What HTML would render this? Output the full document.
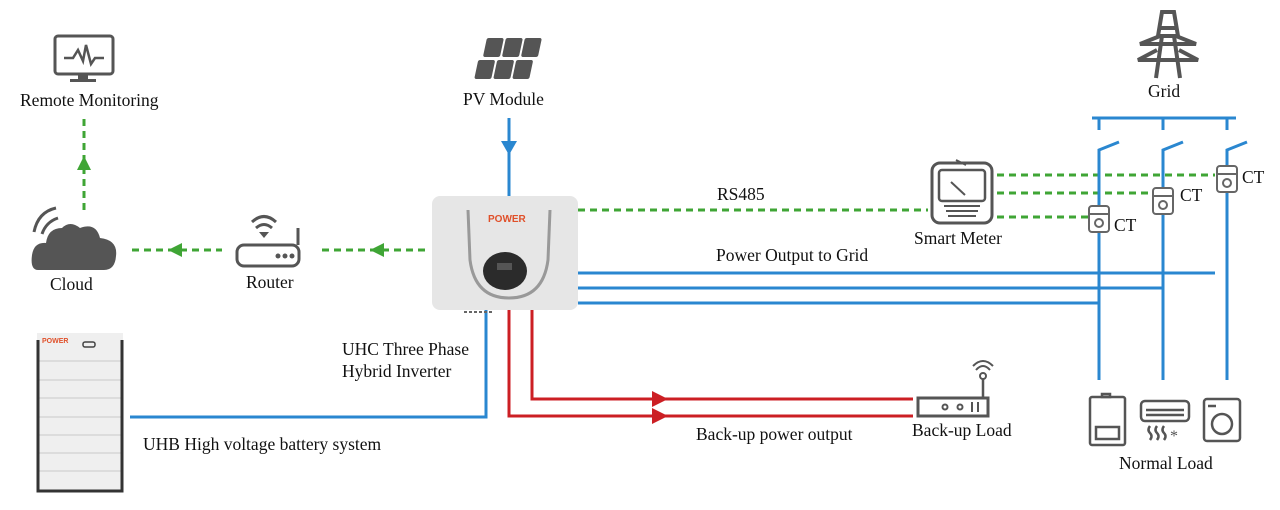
<!DOCTYPE html>
<html><head><meta charset="utf-8"><style>
html,body{margin:0;padding:0;background:#fff;}
svg{display:block;}
text{font-family:"Liberation Serif",serif;font-size:17.5px;fill:#111;}
</style></head><body>
<svg width="1280" height="510" viewBox="0 0 1280 510" xmlns="http://www.w3.org/2000/svg">
<!-- green dashed lines -->
<g stroke="#3fa535" stroke-width="3" stroke-dasharray="7,5" fill="none">
<line x1="84" y1="210" x2="84" y2="118"/>
<line x1="132" y1="250" x2="222" y2="250"/>
<line x1="322" y1="250" x2="430" y2="250"/>
<line x1="578" y1="210" x2="928" y2="210"/>
<line x1="997" y1="175" x2="1215" y2="175"/>
<line x1="997" y1="193" x2="1155" y2="193"/>
<line x1="997" y1="217" x2="1090" y2="217"/>
</g>
<g fill="#3fa535">
<polygon points="77,170 91,170 84,156"/>
<polygon points="168,250 182,243 182,257"/>
<polygon points="370,250 384,243 384,257"/>
</g>
<!-- blue lines -->
<g stroke="#2a87d0" stroke-width="3" fill="none">
<line x1="509" y1="118" x2="509" y2="196"/>
<line x1="578" y1="273" x2="1215" y2="273"/>
<line x1="578" y1="288" x2="1163" y2="288"/>
<line x1="578" y1="303" x2="1099" y2="303"/>
<polyline points="130,417 486,417 486,310"/>
<line x1="1092" y1="118" x2="1236" y2="118"/>
<line x1="1099" y1="118" x2="1099" y2="130"/>
<line x1="1163" y1="118" x2="1163" y2="130"/>
<line x1="1227" y1="118" x2="1227" y2="130"/>
<polyline points="1119,142 1099,150 1099,380"/>
<polyline points="1183,142 1163,150 1163,380"/>
<polyline points="1247,142 1227,150 1227,380"/>
</g>
<polygon points="501,141 517,141 509,155" fill="#2a87d0"/>
<!-- red lines -->
<g stroke="#cc1f24" stroke-width="3" fill="none">
<polyline points="532,310 532,399 913,399"/>
<polyline points="509,310 509,416 913,416"/>
</g>
<g fill="#cc1f24">
<polygon points="652,391 652,407 668,399"/>
<polygon points="652,408 652,424 668,416"/>
</g>
<!-- inverter -->
<rect x="432" y="196" width="146" height="114" rx="8" fill="#e6e6e6"/>
<path d="M468,210 L470,260 Q475,298 509,298 Q543,298 548,260 L550,210" stroke="#999" stroke-width="3" fill="none"/>
<text x="488" y="222" style="font-family:'Liberation Sans',sans-serif;font-size:10px;font-weight:bold;fill:#e0502a">POWER</text>
<ellipse cx="505" cy="271" rx="22" ry="19" fill="#2b2b2b"/>
<rect x="497" y="263" width="15" height="7" fill="#555"/>
<line x1="464" y1="312" x2="492" y2="312" stroke="#666" stroke-width="2" stroke-dasharray="3,2"/>
<!-- battery -->
<rect x="37" y="333" width="86" height="159" fill="#efefef"/>
<g stroke="#c8c8c8" stroke-width="1"><line x1="39" y1="361" x2="121" y2="361"/><line x1="39" y1="380" x2="121" y2="380"/><line x1="39" y1="398" x2="121" y2="398"/><line x1="39" y1="417" x2="121" y2="417"/><line x1="39" y1="435" x2="121" y2="435"/><line x1="39" y1="453" x2="121" y2="453"/><line x1="39" y1="471" x2="121" y2="471"/></g>
<path d="M38,340 L38,491 L122,491 L122,340" stroke="#333" stroke-width="3" fill="none"/>
<rect x="83" y="342" width="12" height="5" rx="2" stroke="#444" stroke-width="1.5" fill="none"/>
<text x="42" y="343" style="font-family:'Liberation Sans',sans-serif;font-size:7px;font-weight:bold;fill:#e0502a">POWER</text>
<!-- monitor -->
<rect x="55" y="36" width="58" height="38" rx="3" stroke="#555" stroke-width="3" fill="none"/>
<rect x="78" y="74" width="10" height="5" fill="#555"/><rect x="70" y="79" width="26" height="3" fill="#555"/>
<polyline points="64,58 73,58 78,50 83,61 86,45 91,64 95,58 104,58" stroke="#555" stroke-width="2.5" fill="none"/>
<!-- cloud -->
<path d="M38,270 Q30,270 32,255 Q34,242 46,243 Q48,228 62,228 Q70,220 80,228 Q96,222 100,238 Q118,240 116,256 Q115,270 104,270 Z" fill="#555"/>
<path d="M34,232 Q38,212 56,208" stroke="#555" stroke-width="3" fill="none"/>
<path d="M42,234 Q46,222 58,218" stroke="#555" stroke-width="3" fill="none"/>
<!-- router -->
<rect x="237" y="245" width="62" height="21" rx="7" stroke="#555" stroke-width="3" fill="none"/>
<line x1="298" y1="245" x2="298" y2="228" stroke="#555" stroke-width="3"/>
<g fill="#555"><circle cx="278" cy="256" r="2.5"/><circle cx="285" cy="256" r="2.5"/><circle cx="292" cy="256" r="2.5"/></g>
<path d="M252,222 Q264,211 276,222 M256,228 Q264,221 272,228" stroke="#555" stroke-width="3" fill="none"/>
<polygon points="259,232 269,232 264,238" fill="#555"/>
<!-- PV -->
<g fill="#555" transform="skewX(-12)">
<rect x="495" y="38" width="17" height="19" rx="2"/><rect x="514" y="38" width="17" height="19" rx="2"/><rect x="533" y="38" width="17" height="19" rx="2"/>
<rect x="491" y="60" width="17" height="19" rx="2"/><rect x="510" y="60" width="17" height="19" rx="2"/><rect x="529" y="60" width="17" height="19" rx="2"/>
</g>
<!-- grid tower -->
<g stroke="#555" stroke-width="4" fill="none">
<path d="M1158,36 L1162,12 L1174,12 L1178,36"/>
<path d="M1156,78 L1162,36 M1180,78 L1174,36"/>
<path d="M1160,28 L1176,28"/>
<path d="M1160,36 L1140,44 L1196,44 L1176,36 Z"/>
<path d="M1157,50 L1138,60 L1198,60 L1179,50"/>
</g>
<!-- smart meter -->
<rect x="932" y="163" width="60" height="60" rx="8" stroke="#555" stroke-width="3" fill="none"/>
<rect x="939" y="170" width="46" height="31" rx="3" stroke="#555" stroke-width="2.5" fill="none"/>
<g stroke="#555" stroke-width="2"><line x1="951" y1="182" x2="965" y2="195"/><line x1="944" y1="206" x2="980" y2="206"/><line x1="946" y1="211" x2="978" y2="211"/><line x1="948" y1="216" x2="976" y2="216"/></g>
<line x1="956" y1="160" x2="966" y2="165" stroke="#555" stroke-width="2"/>
<!-- CTs -->
<g stroke="#666" stroke-width="2" fill="#fff">
<rect x="1089" y="206" width="20" height="26" rx="3"/><line x1="1089" y1="214" x2="1109" y2="214"/><circle cx="1099" cy="223" r="4"/>
<rect x="1153" y="188" width="20" height="26" rx="3"/><line x1="1153" y1="196" x2="1173" y2="196"/><circle cx="1163" cy="205" r="4"/>
<rect x="1217" y="166" width="20" height="26" rx="3"/><line x1="1217" y1="174" x2="1237" y2="174"/><circle cx="1227" cy="183" r="4"/>
</g>
<!-- backup load -->
<rect x="918" y="398" width="70" height="18" stroke="#555" stroke-width="3" fill="none"/>
<line x1="983" y1="398" x2="983" y2="378" stroke="#555" stroke-width="2.5"/>
<circle cx="983" cy="376" r="3" stroke="#555" stroke-width="2" fill="none"/>
<path d="M976,370 Q983,362 990,370 M973,366 Q983,356 993,366" stroke="#555" stroke-width="2" fill="none"/>
<g stroke="#555" stroke-width="2" fill="none"><circle cx="945" cy="407" r="2.5"/><circle cx="960" cy="407" r="2.5"/><line x1="972" y1="402" x2="972" y2="412"/><line x1="978" y1="402" x2="978" y2="412"/></g>
<!-- normal loads -->
<g stroke="#555" stroke-width="2.5" fill="none">
<rect x="1090" y="397" width="35" height="48" rx="2"/><rect x="1102" y="394" width="8" height="3"/>
<rect x="1096" y="427" width="23" height="12"/>
<rect x="1141" y="401" width="48" height="20" rx="4"/><line x1="1146" y1="410" x2="1184" y2="410"/><line x1="1146" y1="415" x2="1184" y2="415"/>
<path d="M1150,426 q-3,4 0,7 q3,3 0,7 M1157,426 q-3,4 0,7 q3,3 0,7 M1164,426 q-3,4 0,7 q3,3 0,7"/>
<rect x="1204" y="399" width="36" height="42" rx="3"/><circle cx="1222" cy="424" r="10"/><line x1="1208" y1="406" x2="1216" y2="406"/>
</g>
<text x="1170" y="441" style="font-size:16px;fill:#555">*</text>
<!-- labels -->
<text x="20" y="106">Remote Monitoring</text>
<text x="50" y="290">Cloud</text>
<text x="246" y="288">Router</text>
<text x="463" y="105">PV Module</text>
<text x="1148" y="97">Grid</text>
<text x="717" y="200">RS485</text>
<text x="914" y="244">Smart Meter</text>
<text x="1114" y="231">CT</text>
<text x="1180" y="201">CT</text>
<text x="1242" y="183">CT</text>
<text x="716" y="261">Power Output to Grid</text>
<text x="342" y="355">UHC Three Phase</text>
<text x="342" y="377">Hybrid Inverter</text>
<text x="143" y="450">UHB  High voltage battery system</text>
<text x="696" y="440">Back-up power output</text>
<text x="912" y="436">Back-up Load</text>
<text x="1119" y="469">Normal Load</text>
</svg>
</body></html>
